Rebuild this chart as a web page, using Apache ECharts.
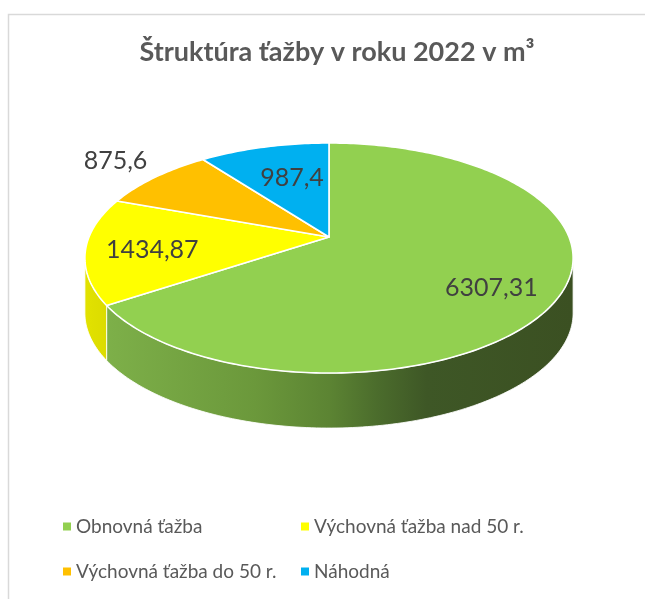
<!DOCTYPE html>
<html>
<head>
<meta charset="utf-8">
<script src="https://cdn.jsdelivr.net/npm/echarts@6/dist/echarts.min.js"></script>
<style>
html,body{margin:0;padding:0;background:#fff;}
#chart{width:645px;height:599px;}
</style>
</head>
<body>
<div id="chart"></div>
<script>
// ---- data ----
const categories = ['Obnovná ťažba', 'Výchovná ťažba nad 50 r.', 'Výchovná ťažba do 50 r.', 'Náhodná'];
const values = [6307.31, 1434.87, 875.6, 987.4];
const colors = ['#92D050', '#FFFF00', '#FFC000', '#00B0F0'];
const titleText = 'Štruktúra ťažby v roku 2022 v m³';

// ---- layout (3D pie projection) ----
const CX = 329, CY = 237;      // projected pie centre
const R = 240, S = 111.2;      // horizontal / vertical radii before perspective
const K = 0.1827;              // perspective strength
const D = 55;                  // wall depth
const labelLayout = [[0.72, 11], [0.73, 3], [1.26, -3], [0.53, -8]]; // radius fraction, y nudge
const legendPos = [[63, 517], [301, 517], [63, 562], [301, 562]];

const total = values.reduce((a, b) => a + b, 0);
const starts = [];
let acc = 0;
values.forEach(v => { starts.push(acc / total * 360); acc += v; });

function proj(deg, r, dz) {
  const t = deg * Math.PI / 180;
  const u = r * Math.sin(t), v = -r * Math.cos(t);
  const w = 1 - K * v;
  return [CX + R * u / w, CY + S * v / w + (dz || 0)];
}
function arc(a0, a1, r, dz) {
  const pts = [];
  const n = Math.max(2, Math.ceil(Math.abs(a1 - a0)));
  for (let k = 0; k <= n; k++) pts.push(proj(a0 + (a1 - a0) * k / n, r, dz));
  return pts;
}
const FRONT0 = Math.acos(-K) * 180 / Math.PI;
const FRONT1 = 360 - FRONT0;

function wallFill(i) {
  if (i === 0) {
    return new echarts.graphic.LinearGradient(85, 0, 573, 0, [
      {offset: 0, color: '#80B34B'}, {offset: 0.35, color: '#6B983B'},
      {offset: 0.5, color: '#5C8433'}, {offset: 0.6, color: '#4B6C2C'},
      {offset: 0.7, color: '#3E5726'}, {offset: 1, color: '#3B5022'}], true);
  }
  if (i === 1) {
    return new echarts.graphic.LinearGradient(85, 0, 140, 0, [
      {offset: 0, color: '#E2E200'}, {offset: 1, color: '#D2D200'}], true);
  }
  return colors[i];
}

function makeRender(i) {
  return function (params, api) {
    const v = api.value(0);
    const a0 = starts[i];
    const a1 = a0 + v / total * 360;
    const children = [];
    const w0 = Math.max(a0, FRONT0), w1 = Math.min(a1, FRONT1);
    if (w1 > w0) {
      const top = arc(w0, w1, 1, 0);
      const bot = arc(w1, w0, 1, D);
      children.push({
        type: 'polygon', z2: 1,
        shape: {points: top.concat(bot)},
        style: {fill: wallFill(i), stroke: 'rgba(255,255,255,0.85)', lineWidth: 1}
      });
    }
    children.push({
      type: 'polygon', z2: 10,
      shape: {points: [proj(0, 0, 0)].concat(arc(a0, a1, 1, 0))},
      style: {fill: colors[i], stroke: '#ffffff', lineWidth: 1.6, lineJoin: 'round'}
    });
    const mid = (a0 + a1) / 2;
    const lp = proj(mid, labelLayout[i][0], 0);
    children.push({
      type: 'text', z2: 20,
      style: {
        x: lp[0], y: lp[1] + labelLayout[i][1],
        text: String(v).replace('.', ','),
        fill: '#404040', font: '25px Lato', align: 'center', verticalAlign: 'middle'
      }
    });
    return {type: 'group', children: children};
  };
}

const chart = echarts.init(document.getElementById('chart'), null, {renderer: 'canvas'});
const option = {
  animation: false,
  backgroundColor: '#ffffff',
  title: {
    text: titleText, left: 337, top: 39, padding: 0, textAlign: 'center',
    textStyle: {fontFamily: 'Lato', fontWeight: 'bold', fontSize: 27, color: '#595959'}
  },
  legend: categories.map((c, i) => ({
    data: [c], left: legendPos[i][0], top: legendPos[i][1], padding: 0,
    icon: 'rect', itemWidth: 8, itemHeight: 8, selectedMode: false,
    textStyle: {fontFamily: 'Lato', fontSize: 19, color: '#595959'}
  })),
  graphic: [{
    type: 'polyline', silent: true,
    shape: {points: [[8.5, 599], [8.5, 14.5], [645, 14.5]]},
    style: {stroke: '#D9D9D9', lineWidth: 1.5, fill: null}
  }],
  series: categories.map((c, i) => ({
    type: 'custom', name: c, coordinateSystem: 'none',
    itemStyle: {color: colors[i]},
    silent: true,
    data: [[values[i]]],
    renderItem: makeRender(i)
  }))
};
chart.setOption(option);
</script>
</body>
</html>
